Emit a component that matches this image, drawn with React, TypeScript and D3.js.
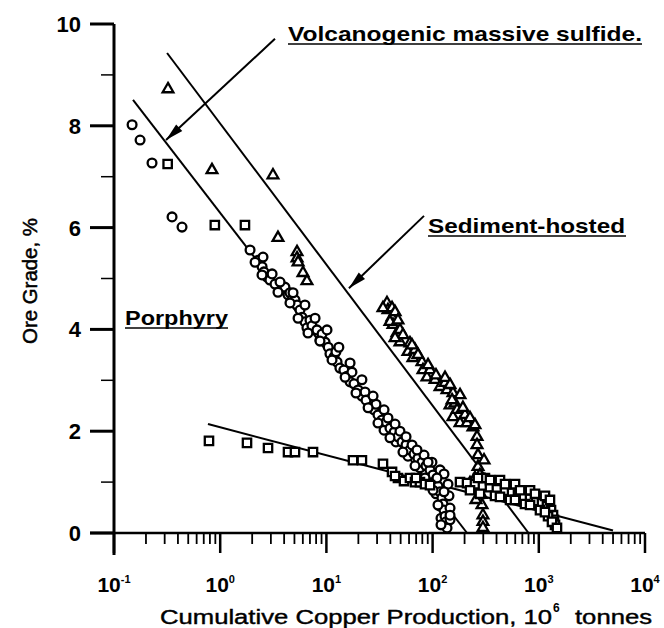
import React from "react";
import * as d3 from "d3";

// Cumulative copper production (10^6 t) vs. ore grade (%), three deposit types.
// Each pair is [cumulative production, grade].
const circleSeries: [number, number][] = [
  [0.148, 8.02], [0.176, 7.72], [0.228, 7.27], [0.352, 6.21], [0.437, 6.01],
  [1.91, 5.56], [2.27, 5.36], [2.48, 5.23], [2.58, 5.13], [2.76, 5.03],
  [2.94, 4.97], [3.28, 4.89], [4.07, 4.83], [4.35, 4.68], [4.54, 4.72],
  [4.74, 4.58], [5.06, 4.58], [5.29, 4.48], [5.64, 4.38], [5.89, 4.24],
  [6.28, 4.15], [6.56, 4.03], [7.01, 4.18], [7.31, 4.07], [8.15, 3.99],
  [8.7, 3.79], [9.1, 3.91], [9.71, 3.75], [10.4, 3.65], [10.8, 3.52],
  [11.8, 3.46], [12.3, 3.56], [12.6, 3.36], [13.4, 3.24], [14.6, 3.2],
  [15.6, 3.08], [16.7, 2.97], [17.4, 3.16], [18.2, 2.93], [19.9, 2.81],
  [21.6, 2.69], [23.1, 2.77], [23.6, 2.61], [25.8, 2.46], [28.1, 2.42],
  [29.3, 2.53], [30.6, 2.32], [33.4, 2.22], [34.9, 2.02], [36.4, 2.18],
  [38.0, 2.26], [39.7, 2.06], [43.4, 1.98], [45.2, 1.79], [47.2, 1.89],
  [49.3, 2.0], [51.5, 1.79], [56.2, 1.73], [58.6, 1.51], [61.2, 1.63],
  [64.0, 1.73], [66.8, 1.55], [72.8, 1.47], [76.0, 1.28], [79.4, 1.39],
  [83.0, 1.53], [86.6, 1.32], [90.6, 1.08], [94.5, 1.24], [98.6, 1.39],
  [100.9, 1.14], [107.6, 1.04], [107.6, 0.77], [112.4, 0.92], [117.5, 0.81],
  [117.5, 1.24], [117.5, 0.53], [120, 0.29], [122.5, 0.69], [125.3, 0.57],
  [128.0, 0.45], [128.0, 1.16], [130.9, 0.33], [133.7, 0.22], [136.7, 0.1],
  [139.6, 0.96], [142.6, 0.73], [145.9, 0.49], [145.9, 0.26],
  [2.53, 5.42], [3.08, 5.09], [3.66, 4.93], [4.85, 4.72], [6.28, 4.48],
  [7.82, 4.22], [10.13, 3.99], [13.1, 3.65], [16.7, 3.34], [21.6, 3.01],
  [27.5, 2.69], [34.9, 2.42], [44.3, 2.14], [56.2, 1.89], [71.3, 1.63],
  [90.6, 1.39], [110, 1.08], [128, 0.81], [145.9, 0.35],
  [2.13, 5.32], [2.475, 5.07], [3.5, 4.73], [4.54, 4.52], [5.41, 4.22],
  [6.71, 3.93], [8.7, 3.77], [11.3, 3.4], [15.0, 3.06], [19.0, 2.75],
  [24.7, 2.46], [30.6, 2.16], [39.7, 1.87], [52.6, 1.59], [68.3, 1.32],
  [84.8, 1.08], [100.9, 0.84], [112.4, 0.55], [120, 0.16],
];

const triangleSeries: [number, number][] = [
  [0.3225, 8.72], [0.837, 7.13], [3.14, 7.03], [3.5, 5.8], [5.29, 5.52],
  [5.29, 5.4], [5.41, 5.32], [6.02, 5.11], [6.56, 4.95],
  [37.2, 4.52], [38.0, 4.38], [41.5, 4.42], [41.5, 4.24], [42.4, 4.09],
  [46.2, 3.93], [49.3, 3.99], [49.3, 3.75], [58.6, 3.56], [61.2, 3.73],
  [65.3, 3.44], [68.3, 3.6], [79.4, 3.36], [81.2, 3.2], [88.5, 3.06],
  [94.5, 3.2], [105.4, 3.01], [117.5, 2.87], [130.9, 2.95], [136.7, 2.81],
  [145.9, 2.51], [155.6, 2.75], [155.6, 2.28], [162.6, 2.55], [170, 2.42],
  [181.2, 2.16], [201.8, 2.32], [211, 2.16], [240, 2.08], [262, 1.89],
  [262, 1.73], [267.5, 1.53], [267.5, 1.3], [279, 1.14], [279, 0.94],
  [286, 0.75], [292, 0.55], [298, 0.35], [298, 0.22], [225, 0.98],
  [250.6, 1.08], [347, 0.98], [311, 1.04],
  [34.1, 4.42], [44.3, 4.34], [39.7, 4.15], [47.2, 4.18], [52.6, 3.89],
  [44.3, 3.83], [64.0, 3.69], [72.8, 3.5], [90.6, 3.3], [107.6, 3.1],
  [130.9, 3.05], [145.9, 2.91], [181.2, 2.71], [152.4, 2.61], [193, 2.46],
  [225, 2.26], [250.6, 2.12], [298, 0.1], [256, 0.65], [305, 1.43],
];

const squareSeries: [number, number][] = [
  [0.32, 7.25], [0.89, 6.05], [1.71, 6.05],
  [0.784, 1.81], [1.788, 1.77], [2.82, 1.67], [4.35, 1.59], [5.06, 1.59],
  [7.48, 1.59], [17.8, 1.43], [21.6, 1.43], [34.1, 1.36], [41.5, 1.2],
  [47.2, 1.08], [53.8, 1.02], [61.2, 1.08], [68.3, 1.0], [76.0, 1.0],
  [84.8, 0.96], [181.2, 1.0], [211, 0.98], [250.6, 0.96], [298, 0.92],
  [347, 0.9], [403, 0.86], [481, 0.83], [560, 0.79], [637, 0.75],
  [726, 0.71], [827, 0.67], [942, 0.63], [1072, 0.59], [1194, 0.53],
  [1303, 0.45], [1361, 0.35], [1390, 0.26], [1421, 0.16], [279, 0.77],
  [387, 0.73], [536, 0.65], [741, 0.57], [1026, 0.45], [1222, 0.33],
  [311, 1.08], [431, 1.04], [597, 0.96], [827, 0.84], [1143, 0.73],
  [225, 0.84], [267.5, 1.08], [347, 1.04], [481, 0.96], [666, 0.84],
  [921, 0.77], [1274, 0.65], [431, 0.71], [597, 0.65], [827, 0.55],
  [1143, 0.41], [1331, 0.22], [1483, 0.1], [44.3, 1.12], [94.5, 0.94],
  [69.8, 1.08],
];

// Fitted trend lines, endpoints as [production, grade]
const vmsFit: [number, number][] = [[0.151, 8.51], [211, 0]];
const sedimentFit: [number, number][] = [[0.316, 9.43], [800, 0]];
const porphyryFit: [number, number][] = [[0.767, 2.14], [5000, 0.05]];

// Arrow callouts: [start, tip] in data units
const vmsArrow: [number, number][] = [[3.28, 9.71], [0.309, 7.72]];
const sedimentArrow: [number, number][] = [[83, 6.23], [16.3, 4.81]];

const xTickExponents = [-1, 0, 1, 2, 3, 4];
const yTickLabels = [0, 2, 4, 6, 8, 10];

const FONT = "'Liberation Sans', Arial, Helvetica, sans-serif";

export default function App() {
  const x = d3.scaleLog().domain([0.1, 1e4]).range([114, 645]);
  const y = d3.scaleLinear().domain([0, 10]).range([533, 24]);
  const line = d3
    .line<[number, number]>()
    .x((d) => x(d[0]))
    .y((d) => y(d[1]));

  const xTicks = x.ticks();
  const isDecade = (t: number) =>
    Math.abs(Math.log10(t) - Math.round(Math.log10(t))) < 1e-9;
  const yTicks = d3.range(0, 11);

  const triPath = d3.symbol(d3.symbolTriangle, 50)() as string;
  const sqPath = d3.symbol(d3.symbolSquare, 70)() as string;
  const markStroke = 2.3;

  const arrow = (pts: [number, number][], key: string) => {
    const [s, t] = pts;
    const x0 = x(s[0]), y0 = y(s[1]), x1 = x(t[0]), y1 = y(t[1]);
    const dx = x1 - x0, dy = y1 - y0;
    const len = Math.hypot(dx, dy);
    const ux = dx / len, uy = dy / len;
    const hl = 18, hw = 4.5;
    const bx = x1 - ux * hl, by = y1 - uy * hl;
    const head = `M${x1},${y1}L${bx - uy * hw},${by + ux * hw}L${bx + uy * hw},${by - ux * hw}Z`;
    return (
      <g key={key}>
        <line x1={x0} y1={y0} x2={x1} y2={y1} stroke="#000" strokeWidth={2} />
        <path d={head} fill="#000" />
      </g>
    );
  };

  return (
    <svg
      width={664}
      height={628}
      style={{ position: "absolute", left: 0, top: 0, background: "#fff" }}
      fontFamily={FONT}
    >
      <rect width={664} height={628} fill="#fff" />

      {/* axes */}
      <line x1={x(0.1)} y1={y(10)} x2={x(0.1)} y2={y(0) + 22} stroke="#000" strokeWidth={3} />
      <line x1={90} y1={y(0)} x2={x(1e4)} y2={y(0)} stroke="#000" strokeWidth={2.5} />

      {yTicks.map((t) => (
        <line
          key={"yt" + t}
          x1={t % 2 === 0 ? 90 : 101}
          x2={x(0.1)}
          y1={y(t)}
          y2={y(t)}
          stroke="#000"
          strokeWidth={t % 2 === 0 ? 3 : 1.5}
        />
      ))}
      {yTickLabels.map((t) => (
        <text
          key={"yl" + t}
          x={81}
          y={y(t)}
          dy="0.36em"
          textAnchor="end"
          fontSize={22}
          fontWeight="bold"
        >
          {t}
        </text>
      ))}

      {xTicks.map((t, i) => (
        <line
          key={"xt" + i}
          x1={x(t)}
          x2={x(t)}
          y1={y(0)}
          y2={y(0) + (isDecade(t) ? 20 : 11)}
          stroke="#000"
          strokeWidth={isDecade(t) ? 2.5 : 1.8}
        />
      ))}
      {xTickExponents.map((e) => (
        <text
          key={"xl" + e}
          x={x(Math.pow(10, e))}
          y={592}
          textAnchor="middle"
          fontSize={21}
          fontWeight="bold"
        >
          10
          <tspan dy={-9} fontSize={11}>
            {e}
          </tspan>
        </text>
      ))}

      {/* axis titles */}
      <text x={160} y={624} fontSize={20} textLength={392} lengthAdjust="spacingAndGlyphs" stroke="#000" strokeWidth={0.4}>
        Cumulative Copper Production, 10
      </text>
      <text x={553} y={612} fontSize={12} fontWeight="bold">
        6
      </text>
      <text x={575} y={624} fontSize={20} textLength={77} lengthAdjust="spacingAndGlyphs" stroke="#000" strokeWidth={0.4}>
        tonnes
      </text>
      <text
        transform="translate(37,281) rotate(-90)"
        textAnchor="middle"
        fontSize={21}
        textLength={126}
        lengthAdjust="spacingAndGlyphs"
        stroke="#000"
        strokeWidth={0.5}
      >
        Ore Grade, %
      </text>

      {/* trend lines */}
      {[vmsFit, sedimentFit, porphyryFit].map((f, i) => (
        <path key={"fit" + i} d={line(f) as string} stroke="#000" strokeWidth={2} fill="none" />
      ))}

      {/* data */}
      {circleSeries.map((d, i) => (
        <circle key={"c" + i} cx={x(d[0])} cy={y(d[1])} r={4.4} fill="#fff" stroke="#000" strokeWidth={markStroke} />
      ))}
      {triangleSeries.map((d, i) => (
        <path key={"t" + i} d={triPath} transform={`translate(${x(d[0])},${y(d[1])})`} fill="#fff" stroke="#000" strokeWidth={markStroke} />
      ))}
      {squareSeries.map((d, i) => (
        <path key={"s" + i} d={sqPath} transform={`translate(${x(d[0])},${y(d[1])})`} fill="#fff" stroke="#000" strokeWidth={markStroke} />
      ))}

      {/* callouts */}
      {arrow(vmsArrow, "a1")}
      {arrow(sedimentArrow, "a2")}

      <text x={288} y={41} fontSize={21} fontWeight="bold" textLength={354} lengthAdjust="spacingAndGlyphs">
        Volcanogenic massive sulfide.
      </text>
      <line x1={288} x2={642} y1={44} y2={44} stroke="#000" strokeWidth={1.5} />

      <text x={428} y={233} fontSize={21} fontWeight="bold" textLength={197} lengthAdjust="spacingAndGlyphs">
        Sediment-hosted
      </text>
      <line x1={428} x2={626} y1={236} y2={236} stroke="#000" strokeWidth={1.5} />

      <text x={125} y={325} fontSize={21} fontWeight="bold" textLength={103} lengthAdjust="spacingAndGlyphs">
        Porphyry
      </text>
      <line x1={125} x2={228} y1={328} y2={328} stroke="#000" strokeWidth={1.5} />
    </svg>
  );
}
